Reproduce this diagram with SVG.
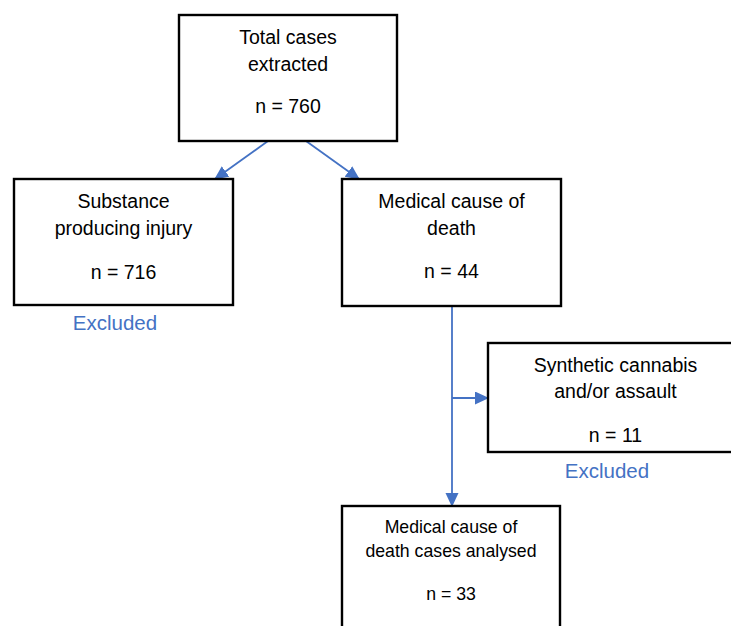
<svg xmlns="http://www.w3.org/2000/svg" width="731" height="626" viewBox="0 0 731 626">
<style>
.box{fill:#fff;stroke:#000;stroke-width:2.4}
.t{font-family:"Liberation Sans",Arial,sans-serif;font-size:19.5px;fill:#000;text-anchor:middle}
.t5{font-family:"Liberation Sans",Arial,sans-serif;font-size:17.7px;fill:#000;text-anchor:middle}
.ex{font-family:"Liberation Sans",Arial,sans-serif;font-size:20.5px;fill:#4472C4;text-anchor:middle}
.c{stroke:#4472C4;stroke-width:1.8;fill:none}
</style>
<defs>
<marker id="ah" markerWidth="14" markerHeight="14" refX="13" refY="6.5" orient="auto" markerUnits="userSpaceOnUse">
<path d="M0,0 L14,6.5 L0,13 Z" fill="#4472C4"/>
</marker>
</defs>
<rect width="731" height="626" fill="#fff"/>
<g id="connectors">
<line class="c" x1="268" y1="141" x2="215" y2="179" marker-end="url(#ah)"/>
<line class="c" x1="306" y1="141" x2="359" y2="179" marker-end="url(#ah)"/>
<line class="c" x1="452" y1="306" x2="452" y2="506" marker-end="url(#ah)"/>
<line class="c" x1="452" y1="398" x2="488" y2="398" marker-end="url(#ah)"/>
</g>
<g id="total">
<rect class="box" x="179" y="15" width="218" height="126" stroke-width="3"/>
<text class="t" x="288" y="44">Total cases</text>
<text class="t" x="288" y="71">extracted</text>
<text class="t" x="288" y="113">n = 760</text>
</g>
<g id="substance">
<rect class="box" x="14" y="179" width="219" height="126"/>
<text class="t" x="123.5" y="208">Substance</text>
<text class="t" x="123.5" y="235">producing injury</text>
<text class="t" x="123.5" y="279">n = 716</text>
<text class="ex" x="115" y="330">Excluded</text>
</g>
<g id="medical">
<rect class="box" x="342" y="179" width="219" height="127"/>
<text class="t" x="451.5" y="208">Medical cause of</text>
<text class="t" x="451.5" y="235">death</text>
<text class="t" x="451.5" y="278">n = 44</text>
</g>
<g id="synthetic">
<rect class="box" x="488" y="343" width="260" height="109"/>
<text class="t" x="615.5" y="372">Synthetic cannabis</text>
<text class="t" x="615.5" y="398">and/or assault</text>
<text class="t" x="615.5" y="442">n = 11</text>
<text class="ex" x="607" y="478">Excluded</text>
</g>
<g id="analysed">
<rect class="box" x="342" y="506" width="218" height="140"/>
<text class="t5" x="451" y="533">Medical cause of</text>
<text class="t5" x="451" y="557">death cases analysed</text>
<text class="t5" x="451" y="600">n = 33</text>
</g>
</svg>
